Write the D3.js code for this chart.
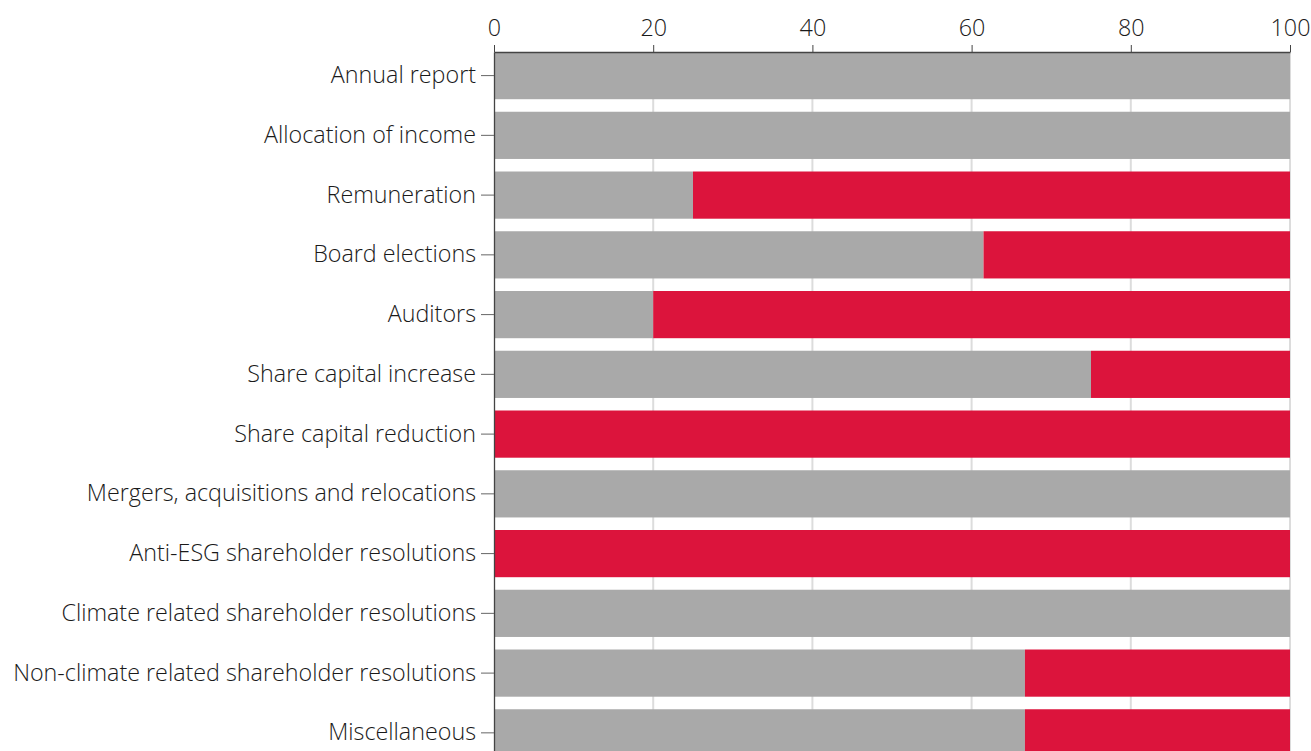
<!DOCTYPE html>
<html>
<head>
<meta charset="utf-8">
<script src="https://d3js.org/d3.v7.min.js"></script>
<style>
  body { margin: 0; background: #fff; }
  svg { display: block; font-family: "Open Sans", "Liberation Sans", Arial, sans-serif; font-weight: 300; }
</style>
</head>
<body>
<svg id="chart"></svg>
<script>
const width = 1311, height = 751;
const margin = { top: 52, left: 494, right: 21 };

// Data: share of votes in favour (gray) vs against (red), in percent
const categories = [
    "Annual report",
    "Allocation of income",
    "Remuneration",
    "Board elections",
    "Auditors",
    "Share capital increase",
    "Share capital reduction",
    "Mergers, acquisitions and relocations",
    "Anti-ESG shareholder resolutions",
    "Climate related shareholder resolutions",
    "Non-climate related shareholder resolutions",
    "Miscellaneous"
];
const forValues = [100, 100, 25, 61.5, 20, 75, 0, 100, 0, 100, 66.7, 66.7];
const xTicks = [0, 20, 40, 60, 80, 100];

const svg = d3.select("#chart")
    .attr("width", width)
    .attr("height", height);

const x = d3.scaleLinear().domain([0, 100]).range([margin.left, width - margin.right]);
const step = 59.75;
const y = d3.scaleBand()
    .domain(categories)
    .range([margin.top, margin.top + step * (categories.length - 0.21)])
    .paddingInner(0.21)
    .paddingOuter(0)
    .align(0);

// Gridlines
svg.append("g")
    .selectAll("line")
    .data(xTicks.slice(1))
    .join("line")
    .attr("x1", d => x(d))
    .attr("x2", d => x(d))
    .attr("y1", margin.top)
    .attr("y2", height)
    .attr("stroke", "#dcdcdc")
    .attr("stroke-width", 2);

// Bars
const rows = svg.append("g")
    .selectAll("g")
    .data(categories)
    .join("g");

rows.append("rect")
    .attr("x", x(0))
    .attr("y", d => y(d))
    .attr("height", y.bandwidth())
    .attr("width", (d, i) => x(forValues[i]) - x(0))
    .attr("fill", "#a9a9a9");

rows.append("rect")
    .attr("x", (d, i) => x(forValues[i]))
    .attr("y", d => y(d))
    .attr("height", y.bandwidth())
    .attr("width", (d, i) => x(100) - x(forValues[i]))
    .attr("fill", "#dc143c");

// Top axis
const xAxis = svg.append("g")
    .attr("transform", `translate(0,${margin.top})`)
    .call(d3.axisTop(x).tickValues(xTicks).tickSize(7).tickPadding(9).tickSizeOuter(0));
xAxis.attr("font-family", null).attr("font-size", null);
xAxis.select(".domain").attr("stroke", "#444").attr("stroke-width", 1.3);
xAxis.selectAll(".tick line").attr("stroke", "#444");
xAxis.selectAll(".tick text")
    .attr("font-size", 23.3)
    .attr("fill", "#1a1a1a");

// Left axis
const yAxis = svg.append("g")
    .attr("transform", `translate(${margin.left},0)`)
    .call(d3.axisLeft(y).tickSize(13).tickPadding(5).tickSizeOuter(0));
yAxis.attr("font-family", null).attr("font-size", null);
yAxis.select(".domain").attr("stroke", "#444").attr("stroke-width", 1.3);
yAxis.selectAll(".tick line").attr("stroke", "#666");
yAxis.selectAll(".tick text")
    .attr("font-size", 23.3)
    .attr("fill", "#1a1a1a");
</script>
</body>
</html>
